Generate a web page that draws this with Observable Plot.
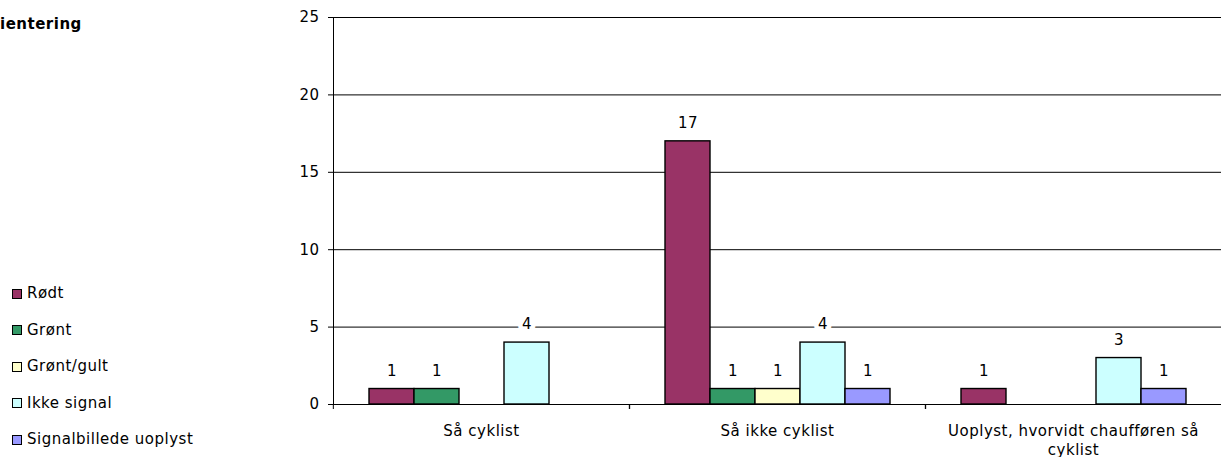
<!DOCTYPE html>
<html><head><meta charset="utf-8">
<script src="https://cdn.jsdelivr.net/npm/d3@7"></script>
<script src="https://cdn.jsdelivr.net/npm/@observablehq/plot@0.6"></script>
<style>
body{margin:0;background:#fff;}
#wrap{position:relative;width:1221px;height:457px;font-family:"DejaVu Sans",Verdana,sans-serif;letter-spacing:0.5px;color:#000;overflow:hidden}
#wrap svg{position:absolute;left:0;top:0}
#title{position:absolute;left:0;top:16px;font-weight:bold;font-size:15px;line-height:17px}
.leg{position:absolute;left:12px;font-size:15px;line-height:17px;height:17px;display:flex;align-items:center;white-space:nowrap}
.sw{width:8px;height:8px;border:1.5px solid #000;margin-right:5px;flex:none}
</style></head>
<body><div id="wrap"><div id="title">ientering</div></div>
<script>
const categories = ["Så cyklist", "Så ikke cyklist", "Uoplyst, hvorvidt chaufføren så cyklist"];
const series = ["Rødt", "Grønt", "Grønt/gult", "Ikke signal", "Signalbillede uoplyst"];
const colors = ["#993366", "#339966", "#FFFFCC", "#CCFFFF", "#9999FF"];
const rodt = [1, 17, 1];
const gront = [1, 1, 0];
const grontGult = [0, 1, 0];
const ikkeSignal = [4, 4, 3];
const signalUoplyst = [0, 1, 1];
const yTicks = [0, 5, 10, 15, 20, 25];

const seriesValues = [rodt, gront, grontGult, ikkeSignal, signalUoplyst];
const rows = [];
categories.forEach((c, i) => series.forEach((s, j) => rows.push({cat: c, series: s, value: seriesValues[j][i]})));
const shown = rows.filter(d => d.value > 0);

const W = 1221, H = 457, ML = 332, MR = 0;
const facetW = (W - ML - MR) / categories.length;
const catFormat = d => d.length > 30 ? d.replace(/ (\S+)$/, "\n$1") : d;

const plot = Plot.plot({
  width: W, height: H,
  marginLeft: ML, marginRight: MR, marginTop: 17, marginBottom: 53,
  style: {fontFamily: "DejaVu Sans, Verdana, sans-serif", fontSize: "15px", letterSpacing: "0.5px", color: "#000", background: "transparent", overflow: "visible"},
  fx: {domain: categories, padding: 0},
  x: {domain: series, paddingInner: 0, paddingOuter: 0.73, axis: null},
  y: {domain: [0, 25]},
  color: {domain: series, range: colors},
  marks: [
    Plot.ruleY(yTicks.filter(d => d > 0), {stroke: "#000", strokeWidth: 1}),
    Plot.barY(shown, {fx: "cat", x: "series", y: "value", fill: "series", stroke: "#000", strokeWidth: 1.4}),
    Plot.ruleY([0], {stroke: "#000", strokeWidth: 1}),
    Plot.text(shown, {fx: "cat", x: "series", y: "value", text: d => String(d.value), dy: -18, fontSize: 15, fill: "#000", stroke: "white", strokeWidth: 9, paintOrder: "stroke"}),
    Plot.axisY({ticks: yTicks, tickSize: 5, tickPadding: 9, label: null, tickFormat: d => String(d), fontSize: 15, stroke: "#000", fill: "#000"}),
    Plot.frame({anchor: "left", facetAnchor: "left", stroke: "#000"}),
    Plot.axisFx({anchor: "bottom", tickSize: 0, tickPadding: 18, label: null, tickFormat: catFormat, fontSize: 15, fill: "#000", lineHeight: 1.25}),
    Plot.axisFx({anchor: "bottom", tickSize: 5, label: null, tickFormat: () => "", dx: facetW / 2, stroke: "#000"}),
    Plot.axisFx({anchor: "bottom", tickSize: 5, label: null, tickFormat: () => "", dx: -facetW / 2, stroke: "#000"})
  ]
});
const wrap = document.getElementById("wrap");
wrap.prepend(plot);

series.forEach((s, j) => {
  const row = document.createElement("div");
  row.className = "leg";
  row.style.top = (293.5 + j * 36.6 - 8.5) + "px";
  const sw = document.createElement("span");
  sw.className = "sw";
  sw.style.background = colors[j];
  const t = document.createElement("span");
  t.textContent = s;
  row.append(sw, t);
  wrap.append(row);
});
</script>
</body></html>
